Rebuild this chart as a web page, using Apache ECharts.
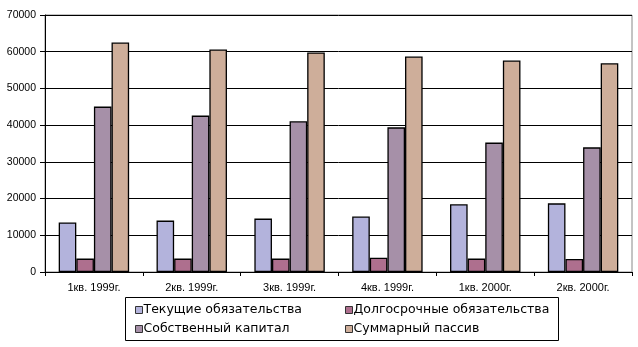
<!DOCTYPE html>
<html><head><meta charset="utf-8">
<script src="https://cdn.jsdelivr.net/npm/echarts@6/dist/echarts.min.js"></script>
<style>html,body{margin:0;padding:0;background:#fff}#c{width:638px;height:347px}</style>
</head><body><div id="c"></div>
<script>
var categories = ['1кв. 1999г.', '2кв. 1999г.', '3кв. 1999г.', '4кв. 1999г.', '1кв. 2000г.', '2кв. 2000г.'];
var seriesNames = ['Текущие обязательства', 'Долгосрочные обязательства', 'Собственный капитал', 'Суммарный пассив'];
var current = [13500, 14000, 14550, 15100, 18450, 18700];
var longTerm = [3650, 3650, 3650, 3900, 3650, 3550];
var equity = [45050, 42600, 41050, 39400, 35250, 33950];
var total = [62500, 60600, 59800, 58700, 57600, 56850];
var yTicks = [0, 10000, 20000, 30000, 40000, 50000, 60000, 70000];

var colors = ['#b3b3dc', '#ae6f8e', '#a690a8', '#ceae9a'];
var values = [current, longTerm, equity, total];
var font = 'Liberation Sans, Arial, sans-serif';
var legendFont = 'DejaVu Sans, sans-serif';

var chart = echarts.init(document.getElementById('c'), null, {renderer: 'canvas'});
var series = values.map(function (v, i) {
  return {
    name: seriesNames[i], type: 'bar', data: v,
    barGap: 0, barCategoryGap: '28%',
    itemStyle: {color: colors[i], borderColor: '#000', borderWidth: 1.3},
    emphasis: {disabled: true}
  };
});
function legend(items, left) {
  return {
    data: items, orient: 'vertical', left: left, top: 303, padding: 0,
    itemWidth: 7, itemHeight: 7, itemGap: 5, icon: 'rect',
    textStyle: {fontFamily: legendFont, fontSize: 12.5, lineHeight: 14, color: '#000', padding: [0, 0, 0, -4]},
    itemStyle: {borderColor: '#333', borderWidth: 1},
    selectedMode: false
  };
}
chart.setOption({
  animation: false,
  color: colors,
  grid: {left: 45, right: 6, top: 15, bottom: 75, show: true, borderColor: '#888', borderWidth: 1},
  legend: [legend([seriesNames[0], seriesNames[2]], 135), legend([seriesNames[1], seriesNames[3]], 345)],
  graphic: [{type: 'rect', shape: {x: 125.5, y: 297.5, width: 433, height: 43},
    style: {fill: 'none', stroke: '#000', lineWidth: 1}}],
  xAxis: {
    type: 'category', data: categories,
    axisLine: {lineStyle: {color: '#000', width: 1}},
    axisTick: {show: true, length: 4, inside: false, alignWithLabel: false, lineStyle: {color: '#000'}},
    axisLabel: {fontFamily: font, fontSize: 11, color: '#000', margin: 10, interval: 0}
  },
  yAxis: {
    type: 'value', min: yTicks[0], max: yTicks[yTicks.length - 1], interval: yTicks[1] - yTicks[0],
    axisLine: {show: true, lineStyle: {color: '#000', width: 1}},
    axisTick: {show: true, length: 5, lineStyle: {color: '#000'}},
    splitLine: {lineStyle: {color: '#000', width: 1}},
    axisLabel: {fontFamily: font, fontSize: 10.5, color: '#000', margin: 9,
      formatter: function (v) { return String(v); }}
  },
  series: series
});
</script></body></html>
